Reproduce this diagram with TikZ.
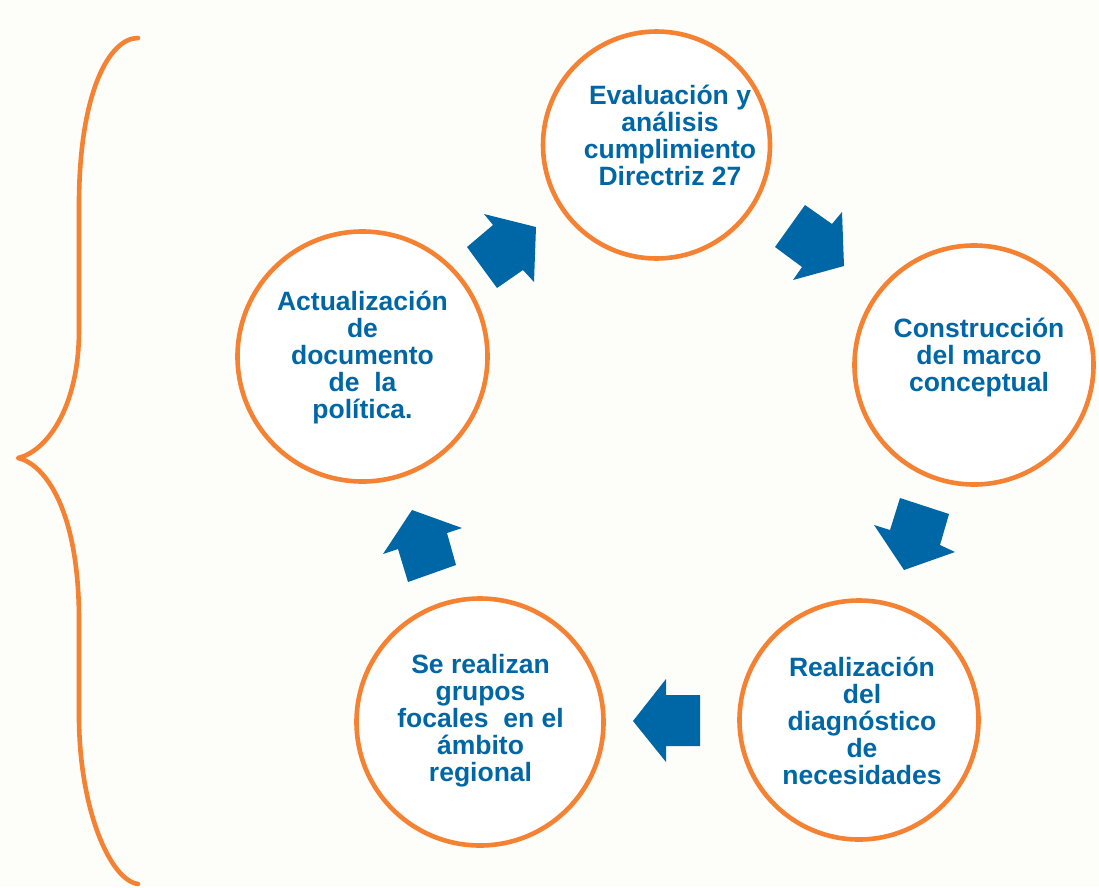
\documentclass[tikz,border=0pt]{standalone}
\usepackage{fontspec}
\setmainfont{Liberation Sans}
\definecolor{bg}{RGB}{253,253,250}
\definecolor{orng}{RGB}{245,130,50}
\definecolor{blu}{RGB}{0,103,167}
\tikzset{
  circ/.style={circle, draw=orng, line width=4.6pt, fill=white, inner sep=0pt},
  txt/.style={align=center, text=blu, font=\fontsize{26.5}{27}\selectfont\bfseries, inner sep=0pt},
  blockarrow/.style={fill=blu}
}
\begin{document}
\begin{tikzpicture}[x=1pt,y=-1pt]
\useasboundingbox (0,0) rectangle (1099,887);
\fill[bg] (0,0) rectangle (1099,887);
% circles
\node[circ, minimum size=227pt] (c1) at (656.5,145) {};
\node[circ, minimum size=239pt] (c2) at (974,365) {};
\node[circ, minimum size=239pt] (c3) at (859,720) {};
\node[circ, minimum size=247pt] (c4) at (480,722) {};
\node[circ, minimum size=250pt] (c5) at (362.5,356.5) {};
% texts
\node[txt] (t1) at (670,135) {Evaluación y\\análisis\\cumplimiento\\Directriz 27};
\node[txt] (t2) at (979,358) {Construcción\\del marco\\conceptual};
\node[txt] (t3) at (862,721) {Realización\\del\\diagnóstico\\de\\necesidades};
\node[txt] (t4) at (480.5,721) {Se realizan\\grupos\\focales\ \ en el\\ámbito\\regional};
\node[txt] (t5) at (362.5,358) {Actualización\\de\\documento\\de\ \ la\\política.};
% block arrows
\fill[blockarrow] (484,214) -- (536,227) -- (534,282) -- (523,270) -- (497,288) -- (467,247) -- (493,225) -- cycle;
\fill[blockarrow] (775,247) -- (805,205) -- (832,224) -- (842,212) -- (844,266) -- (793,280) -- (802,267) -- cycle;
\fill[blockarrow] (900,498) -- (949,514) -- (940,545) -- (955,552) -- (904,570) -- (874,525) -- (890,530) -- cycle;
\fill[blockarrow] (700,695) -- (666,695) -- (666,679) -- (633,721) -- (666,762) -- (666,746) -- (700,746) -- cycle;
\fill[blockarrow] (412,510) -- (462,528) -- (447,533) -- (456,565) -- (408,582) -- (398,549) -- (383,554) -- cycle;
% brace
\draw[orng, line width=4.6pt, line cap=round, line join=round]
  (138,38) .. controls (110,38) and (80,90) .. (79,200)
  -- (79,330) .. controls (79,410) and (45,452) .. (18,458)
  .. controls (45,464) and (79,510) .. (79,620)
  -- (79,720) .. controls (80,810) and (110,880) .. (138,884);
\end{tikzpicture}
\end{document}
